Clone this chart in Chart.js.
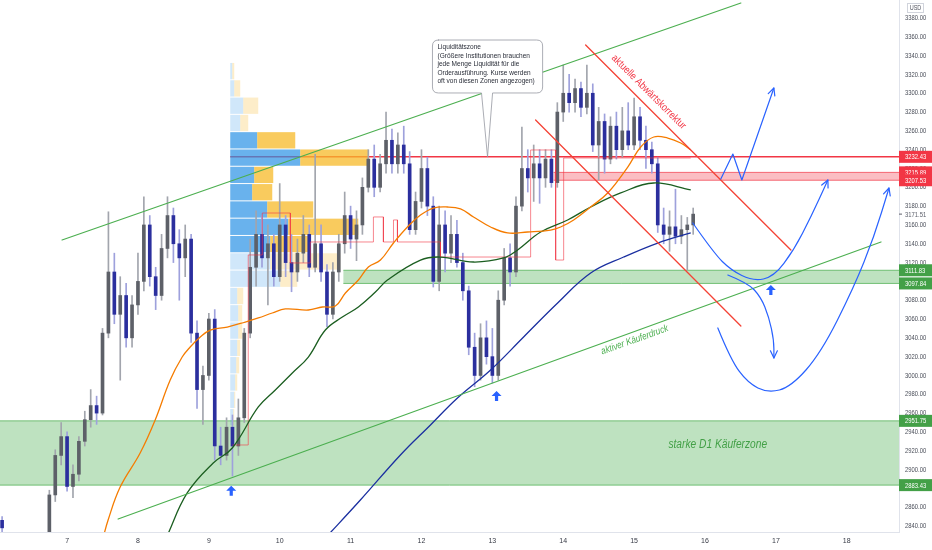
<!DOCTYPE html>
<html>
<head>
<meta charset="utf-8">
<script src="https://cdn.jsdelivr.net/npm/chart.js@4.4.1/dist/chart.umd.min.js"></script>
<style>
html, body { margin: 0; padding: 0; background: #fff; }
#wrap { width: 932px; height: 550px; }
</style>
</head>
<body>
<div id="wrap"><canvas id="chart" width="932" height="550"></canvas></div>
<script>
// 2h candles, starting day 6 at 02:00
const startDay = 6 + 2 / 24;
const candleHours = 2;

const open = [2846,2832,2820,2825,2816,2822,2818,2826,2830,2873,
  2915,2935,2882,2895,2930,2953,2968,2960,3045,3110,
  3065,3085,3040,3075,3100,3160,3105,3085,3135,3170,
  3140,3125,3145,3045,2985,3000,3060,2925,2915,2945,
  2925,2955,3045,3115,3150,3125,3140,3105,3160,3120,
  3110,3130,3150,3115,3140,3110,3065,3110,3140,3170,
  3145,3160,3200,3230,3200,3225,3250,3225,3245,3225,
  3155,3185,3220,3180,3100,3160,3130,3150,3120,3090,
  3030,3000,3040,3020,3000,3080,3125,3110,3180,3220,
  3210,3225,3210,3230,3205,3280,3300,3290,3305,3285,
  3300,3245,3270,3230,3265,3240,3260,3245,3275,3250,
  3240,3225,3160,3150,3158,3148,3155,3160];
const high = [2850,2833,2828,2831,2826,2830,2829,2832,2878,2921,
  2950,2940,2905,2935,2962,2985,2978,3050,3174,3130,
  3105,3098,3085,3130,3190,3170,3115,3150,3190,3178,
  3155,3160,3150,3058,3010,3066,3070,2945,2955,2958,
  2975,3050,3145,3175,3170,3160,3150,3204,3170,3150,
  3145,3170,3160,3235,3160,3118,3120,3150,3195,3180,
  3175,3210,3240,3245,3235,3280,3262,3258,3265,3238,
  3195,3240,3232,3190,3180,3175,3170,3165,3130,3095,
  3045,3055,3058,3050,3090,3135,3140,3190,3264,3240,
  3245,3240,3240,3240,3290,3330,3320,3315,3312,3330,
  3310,3285,3278,3275,3280,3285,3290,3295,3285,3265,
  3248,3232,3178,3175,3198,3170,3168,3178];
const low = [2834,2815,2810,2812,2808,2815,2811,2818,2826,2866,
  2905,2877,2870,2888,2925,2945,2948,2958,3040,3055,
  2995,3030,3030,3065,3090,3095,3070,3080,3125,3120,
  3080,3105,3035,2965,2948,2995,2910,2905,2910,2893,
  2915,2950,3040,3095,3115,3075,3095,3100,3105,3089,
  3100,3120,3105,3110,3100,3052,3060,3100,3130,3135,
  3122,3150,3195,3190,3195,3215,3215,3215,3215,3150,
  3150,3178,3170,3094,3090,3110,3120,3115,3080,3022,
  2988,2995,3012,2992,2995,3075,3095,3105,3175,3195,
  3185,3183,3200,3200,3200,3270,3280,3280,3275,3278,
  3238,3208,3215,3225,3230,3232,3240,3240,3240,3220,
  3215,3152,3140,3132,3140,3140,3112,3150];
const close = [2838,2820,2825,2816,2822,2818,2826,2830,2873,2915,
  2935,2882,2895,2930,2953,2968,2960,3045,3110,3065,
  3085,3040,3075,3100,3160,3105,3085,3135,3170,3140,
  3125,3145,3045,2985,3000,3060,2925,2915,2945,2925,
  2955,3045,3115,3150,3125,3140,3105,3160,3120,3110,
  3130,3150,3115,3140,3110,3065,3110,3140,3170,3145,
  3160,3200,3230,3200,3225,3250,3225,3245,3225,3155,
  3185,3220,3180,3100,3160,3130,3150,3120,3090,3030,
  3000,3040,3020,3000,3080,3125,3110,3180,3220,3210,
  3225,3210,3230,3205,3280,3300,3290,3305,3285,3300,
  3245,3270,3230,3265,3240,3260,3245,3275,3250,3240,
  3225,3160,3150,3158,3148,3155,3160,3171.51];

// moving averages (day, price)
const maOrangeDays = [7.50,7.579,7.749,8.031,8.243,8.455,8.624,8.737,8.879,9.020,9.260,9.514,9.698,9.895,10.079,10.404,10.602,10.785,10.927,11.110,11.251,11.421,11.605,11.802,11.986,12.169,12.367,12.551,12.734,12.975,13.215,13.497,13.822,13.963,14.147,14.387,14.627,14.910,15.093,15.277,15.475,15.658,15.799];
const maOrange = [2825,2846.4,2881.4,2917.6,2952.7,2995.2,3019.6,3030.3,3040.9,3048.3,3051.5,3056.8,3061.1,3066.4,3070.7,3069.6,3072.8,3073.8,3087.7,3101.5,3115.3,3122.7,3140.8,3157.8,3170.6,3178.0,3179.1,3177.0,3168.5,3157.8,3151.5,3152.5,3154.6,3157.8,3165.3,3179.1,3194.0,3221.6,3242.9,3253.5,3252.4,3247.1,3239.6];
const maGreenDays = [8.398,8.695,9.062,9.331,9.698,9.938,10.178,10.404,10.644,10.884,11.110,11.350,11.520,11.986,12.268,12.734,13.158,13.356,13.681,14.062,14.387,14.811,15.277,15.799];
const maGreen = [2827.2,2875.1,2907.0,2922.9,2966.5,2984.6,3002.6,3019.6,3048.3,3062.1,3072.8,3088.7,3101.5,3122.7,3125.9,3120.6,3124.9,3133.4,3152.5,3165.3,3179.1,3194.0,3204.6,3197.2];
const maBlueDays = [10.644,11.138,11.703,12.127,12.508,12.975,13.441,13.921,14.387,14.853,15.333,15.799];
const maBlue = [2827.2,2867.6,2915.5,2947.4,2976.0,3005.8,3040.9,3077.0,3108.9,3125.9,3140.8,3151.5];

// developing POC step line
const pocDays = [9.331,9.556,9.556,9.754,9.754,10.150,10.150,10.432,10.432,11.322,11.322,11.463,11.463,11.605,11.605,11.661,11.661,12.268,12.268,13.540,13.540,13.893,13.893,14.006,14.006,15.799];
const pocPrice = [2926.1,2926.1,3128.1,3128.1,3172.7,3172.7,3119.6,3119.6,3141.9,3141.9,3168.5,3168.5,3141.9,3141.9,3165.3,3165.3,3141.9,3141.9,3125.9,3125.9,3239.7,3239.7,3122.7,3122.7,3231.2,3231.2];

// volume profile (rows from top price downwards)
const profileTop = 3332.2;
const profileRow = 18.39;
const profileStartDay = 9.302;
const profileBuy = [2,4,13,10,27,70,24,22,37,58,40,40,50,7,8,8,7,6,5,4,3];
const profileSell = [2,6,15,8,38,68,19,20,46,70,40,70,17,6,4,4,3,3,2,1,1];
const valueAreaFirst = 4, valueAreaLast = 10;

// zones and levels
const zoneLow = [2883.43, 3097.84, 3207.53];
const zoneHigh = [2951.75, 3111.83, 3215.89];
const zoneStart = [6.0, 10.898, 13.864];
const zoneKind = ['buy', 'buy', 'sell'];
const liquidityLevel = 3232.43;
const liquidityStart = 9.302;
const lastPrice = 3171.51;

const tagPrices = [3232.43, 3215.89, 3207.53, 3111.83, 3097.84, 2951.75, 2883.43];
const tagKind = ['sell', 'sell', 'sell', 'buy', 'buy', 'buy', 'buy'];

// trend lines [day0, price0, day1, price1]
const greenLines = [[6.929, 3144.0, 16.506, 3395.9], [7.720, 2847.4, 18.483, 3141.9]];
const redLines = [[14.316, 3351.3, 17.212, 3133.4], [13.610, 3271.6, 16.506, 3052.6]];

// projected paths
const pathZigDays = [16.223, 16.393, 16.520, 16.972];
const pathZig = [3208.8, 3235.4, 3207.8, 3305.6];
const pathUpDays = [15.828, 16.124, 16.364, 16.675, 16.972, 17.254, 17.494, 17.734];
const pathUp = [3162.1, 3130.2, 3112.1, 3100.4, 3104.7, 3133.4, 3168.5, 3207.8];
const pathDownDays = [16.322, 16.605, 16.788, 16.901, 16.972, 16.972];
const pathDown = [3106.8, 3098.3, 3083.4, 3062.1, 3037.7, 3018.6];
const pathDeepDays = [16.181, 16.364, 16.605, 16.887, 17.212, 17.636, 18.102, 18.384, 18.596];
const pathDeep = [3050.5, 3016.5, 2992.0, 2981.4, 2987.7, 3023.9, 3094.0, 3147.2, 3199.3];

const markerDays = [9.316, 13.059, 16.929];
const markerPrices = [2882.7, 2983.5, 3096.2];

const calloutLines = ['Liquiditätszone', '(Größere Institutionen brauchen', 'jede Menge Liquidität für die', 'Orderausführung. Kurse werden', 'oft von diesen Zonen angezogen)'];

const FONT = "'Liberation Sans', Arial, sans-serif";
const RED = '#f23645';
const GREEN = '#4caf50';
const BLUE = '#2962ff';

const times = open.map((_, i) => startDay + i * candleHours / 24);
const isUp = i => close[i] >= open[i];
const pts = (xs, ys) => xs.map((d, i) => ({ x: d, y: ys[i] }));

// narrow text: the reference font is condensed
function narrowText(ctx, text, x, y, sx, align) {
  ctx.save();
  ctx.translate(x, y);
  ctx.scale(sx, 1);
  ctx.textAlign = align || 'left';
  ctx.fillText(text, 0, 0);
  ctx.restore();
}

function drawPath(ctx, x, y, days, prices, smooth) {
  const p = days.map((d, i) => [x.getPixelForValue(d), y.getPixelForValue(prices[i])]);
  ctx.beginPath();
  ctx.moveTo(p[0][0], p[0][1]);
  if (!smooth) {
    for (let i = 1; i < p.length; i++) ctx.lineTo(p[i][0], p[i][1]);
  } else {
    for (let i = 1; i < p.length - 1; i++) {
      const mx = (p[i][0] + p[i + 1][0]) / 2, my = (p[i][1] + p[i + 1][1]) / 2;
      ctx.quadraticCurveTo(p[i][0], p[i][1], mx, my);
    }
    ctx.lineTo(p[p.length - 1][0], p[p.length - 1][1]);
  }
  ctx.stroke();
  const a = p[p.length - 2], b = p[p.length - 1];
  const ang = Math.atan2(b[1] - a[1], b[0] - a[0]);
  ctx.beginPath();
  ctx.moveTo(b[0] - 8 * Math.cos(ang - 0.45), b[1] - 8 * Math.sin(ang - 0.45));
  ctx.lineTo(b[0], b[1]);
  ctx.lineTo(b[0] - 8 * Math.cos(ang + 0.45), b[1] - 8 * Math.sin(ang + 0.45));
  ctx.stroke();
}

function rotatedText(ctx, text, cx, cy, angle, font, color, sx) {
  ctx.save();
  ctx.translate(cx, cy);
  ctx.rotate(angle);
  ctx.scale(sx, 1);
  ctx.font = font;
  ctx.fillStyle = color;
  ctx.textAlign = 'center';
  ctx.textBaseline = 'middle';
  ctx.fillText(text, 0, 0);
  ctx.restore();
}

const overlay = {
  id: 'overlay',
  beforeDatasetsDraw(chart) {
    const { ctx, chartArea: a, scales: { x, y } } = chart;
    ctx.save();
    ctx.beginPath(); ctx.rect(a.left, a.top, a.width, a.height); ctx.clip();

    zoneLow.forEach((lo, i) => {
      const x0 = Math.max(a.left, x.getPixelForValue(zoneStart[i]));
      const y0 = y.getPixelForValue(zoneHigh[i]);
      const y1 = y.getPixelForValue(lo);
      const buy = zoneKind[i] === 'buy';
      ctx.fillStyle = buy ? 'rgba(76,175,80,0.36)' : 'rgba(242,54,69,0.32)';
      ctx.fillRect(x0, y0, a.right - x0, y1 - y0);
      ctx.strokeStyle = buy ? 'rgba(76,175,80,0.75)' : 'rgba(242,54,69,0.7)';
      ctx.lineWidth = 1;
      ctx.beginPath();
      ctx.moveTo(x0, y0); ctx.lineTo(a.right, y0);
      ctx.moveTo(x0, y1); ctx.lineTo(a.right, y1);
      ctx.stroke();
    });

    const ly = y.getPixelForValue(liquidityLevel);
    ctx.strokeStyle = RED;
    ctx.lineWidth = 1.6;
    ctx.beginPath();
    ctx.moveTo(x.getPixelForValue(liquidityStart), ly);
    ctx.lineTo(a.right, ly);
    ctx.stroke();

    const px0 = x.getPixelForValue(profileStartDay);
    profileBuy.forEach((buy, i) => {
      const yt = y.getPixelForValue(profileTop - i * profileRow);
      const yb = y.getPixelForValue(profileTop - (i + 1) * profileRow);
      const inVA = i >= valueAreaFirst && i <= valueAreaLast;
      const h = yb - yt - 1;
      ctx.fillStyle = inVA ? 'rgba(41,146,230,0.7)' : 'rgba(41,146,230,0.22)';
      ctx.fillRect(px0, yt, buy, h);
      ctx.fillStyle = inVA ? 'rgba(247,185,40,0.75)' : 'rgba(247,185,40,0.25)';
      ctx.fillRect(px0 + buy, yt, profileSell[i], h);
    });
    ctx.restore();
  },
  afterDatasetsDraw(chart) {
    const { ctx, chartArea: a, scales: { x, y } } = chart;
    ctx.save();
    ctx.beginPath(); ctx.rect(a.left, a.top, a.width, a.height); ctx.clip();
    ctx.lineCap = 'round';

    ctx.lineWidth = 1.2;
    ctx.strokeStyle = GREEN;
    greenLines.forEach(l => {
      ctx.beginPath();
      ctx.moveTo(x.getPixelForValue(l[0]), y.getPixelForValue(l[1]));
      ctx.lineTo(x.getPixelForValue(l[2]), y.getPixelForValue(l[3]));
      ctx.stroke();
    });
    ctx.strokeStyle = '#f44336';
    ctx.lineWidth = 1.3;
    redLines.forEach(l => {
      ctx.beginPath();
      ctx.moveTo(x.getPixelForValue(l[0]), y.getPixelForValue(l[1]));
      ctx.lineTo(x.getPixelForValue(l[2]), y.getPixelForValue(l[3]));
      ctx.stroke();
    });

    // callout
    const l = x.getPixelForValue(12.155), t = y.getPixelForValue(3356.6);
    const r = x.getPixelForValue(13.709), b = y.getPixelForValue(3300.3);
    const pL = x.getPixelForValue(12.847), pR = x.getPixelForValue(13.003);
    const tipX = x.getPixelForValue(12.932), tipY = y.getPixelForValue(liquidityLevel);
    const rad = 6;
    ctx.beginPath();
    ctx.moveTo(l + rad, t);
    ctx.lineTo(r - rad, t); ctx.quadraticCurveTo(r, t, r, t + rad);
    ctx.lineTo(r, b - rad); ctx.quadraticCurveTo(r, b, r - rad, b);
    ctx.lineTo(pR, b); ctx.lineTo(tipX, tipY); ctx.lineTo(pL, b);
    ctx.lineTo(l + rad, b); ctx.quadraticCurveTo(l, b, l, b - rad);
    ctx.lineTo(l, t + rad); ctx.quadraticCurveTo(l, t, l + rad, t);
    ctx.closePath();
    ctx.fillStyle = '#ffffff';
    ctx.fill();
    ctx.strokeStyle = '#9598a1';
    ctx.lineWidth = 0.8;
    ctx.stroke();
    ctx.fillStyle = '#2a2e39';
    ctx.font = '7.5px ' + FONT;
    ctx.textBaseline = 'middle';
    calloutLines.forEach((s, i) => narrowText(ctx, s, l + 5, t + 7 + i * 8.5, 0.87));

    rotatedText(ctx, 'aktuelle Abwärtskorrektur', x.getPixelForValue(15.206), y.getPixelForValue(3301.3), Math.PI / 4, '10.5px ' + FONT, RED, 0.85);
    rotatedText(ctx, 'aktiver Käuferdruck', x.getPixelForValue(15.008), y.getPixelForValue(3037.7), -0.344, 'italic 10px ' + FONT, GREEN, 0.82);
    rotatedText(ctx, 'starke D1 Käuferzone', x.getPixelForValue(16.18), y.getPixelForValue(2926.1), 0, 'italic 12px ' + FONT, '#43a047', 0.85);

    // projections
    ctx.strokeStyle = BLUE;
    ctx.lineWidth = 1.2;
    ctx.lineJoin = 'round';
    drawPath(ctx, x, y, pathZigDays, pathZig, false);
    drawPath(ctx, x, y, pathUpDays, pathUp, true);
    drawPath(ctx, x, y, pathDownDays, pathDown, true);
    drawPath(ctx, x, y, pathDeepDays, pathDeep, true);

    ctx.fillStyle = BLUE;
    markerDays.forEach((d, i) => {
      const mx = x.getPixelForValue(d), my = y.getPixelForValue(markerPrices[i]);
      ctx.beginPath();
      ctx.moveTo(mx, my);
      ctx.lineTo(mx + 5, my + 5);
      ctx.lineTo(mx + 1.6, my + 5);
      ctx.lineTo(mx + 1.6, my + 10);
      ctx.lineTo(mx - 1.6, my + 10);
      ctx.lineTo(mx - 1.6, my + 5);
      ctx.lineTo(mx - 5, my + 5);
      ctx.closePath();
      ctx.fill();
    });
    ctx.restore();
  },
  afterDraw(chart) {
    const { ctx, chartArea: a, scales: { y } } = chart;
    ctx.save();
    ctx.font = '7.5px ' + FONT;
    ctx.textBaseline = 'middle';
    // price axis ticks from the scale
    ctx.fillStyle = '#4a4e59';
    y.ticks.forEach(tk => narrowText(ctx, tk.value.toFixed(2), a.right + 6, y.getPixelForValue(tk.value), 0.78));

    tagPrices.forEach((p, i) => {
      const ty = y.getPixelForValue(p);
      ctx.fillStyle = tagKind[i] === 'buy' ? '#43a047' : RED;
      ctx.fillRect(a.right, ty - 6, chart.width - a.right, 12);
      ctx.fillStyle = '#ffffff';
      narrowText(ctx, p.toFixed(2), a.right + 6, ty + 0.5, 0.78);
    });
    const lp = y.getPixelForValue(lastPrice);
    ctx.fillStyle = '#5d606b';
    narrowText(ctx, lastPrice.toFixed(2), a.right + 6, lp + 0.5, 0.78);
    ctx.strokeStyle = '#5d606b';
    ctx.lineWidth = 1;
    ctx.beginPath(); ctx.moveTo(a.right, lp); ctx.lineTo(a.right + 3, lp); ctx.stroke();

    ctx.strokeStyle = '#d1d4dc';
    ctx.strokeRect(a.right + 8.5, 3.5, 16, 9);
    ctx.fillStyle = '#50535e';
    ctx.font = '6.5px ' + FONT;
    narrowText(ctx, 'USD', a.right + 16.5, 8.5, 0.85, 'center');
    ctx.restore();
  }
};

new Chart(document.getElementById('chart'), {
  type: 'bar',
  data: {
    datasets: [
      { type: 'line', data: pts(maOrangeDays, maOrange), borderColor: '#f57c00', borderWidth: 1.3, pointRadius: 0, tension: 0.4, order: 1 },
      { type: 'line', data: pts(maGreenDays, maGreen), borderColor: '#1b5e20', borderWidth: 1.3, pointRadius: 0, tension: 0.4, order: 1 },
      { type: 'line', data: pts(maBlueDays, maBlue), borderColor: '#1a2fa0', borderWidth: 1.3, pointRadius: 0, tension: 0.4, order: 1 },
      { type: 'line', data: pts(pocDays, pocPrice), borderColor: 'rgba(242,54,69,0.6)', borderWidth: 1, pointRadius: 0, tension: 0, order: 2 },
      {
        data: times.map((t, i) => ({ x: t, y: [open[i], close[i]] })),
        backgroundColor: c => isUp(c.dataIndex) ? '#5d6068' : '#2b2f9e',
        barThickness: 3, minBarLength: 1, grouped: false, borderWidth: 0, order: 3
      },
      {
        data: times.map((t, i) => ({ x: t, y: [low[i], high[i]] })),
        backgroundColor: c => isUp(c.dataIndex) ? '#a2a5ad' : '#9ea1dc',
        barThickness: 1, grouped: false, borderWidth: 0, order: 4
      }
    ]
  },
  options: {
    responsive: false,
    animation: false,
    layout: { padding: 0 },
    plugins: { legend: { display: false }, tooltip: { enabled: false } },
    scales: {
      x: {
        type: 'linear',
        min: 6.0537,
        max: 18.737,
        offset: false,
        grid: { display: false, drawTicks: false },
        border: { display: true, color: '#e0e3eb' },
        ticks: {
          stepSize: 1, includeBounds: false, autoSkip: false, maxRotation: 0,
          padding: 5, color: '#363a45', font: { family: FONT, size: 7 },
          callback: v => Number.isInteger(v) ? String(v) : ''
        },
        afterFit: s => { s.height = 18; s.paddingLeft = 0; s.paddingRight = 0; }
      },
      y: {
        position: 'right',
        min: 2833.6,
        max: 3399.13,
        grid: { display: false, drawTicks: false },
        border: { display: true, color: '#e0e3eb' },
        ticks: {
          display: false,
          stepSize: 20, maxTicksLimit: 100, includeBounds: false, autoSkip: false
        },
        afterFit: s => { s.width = 33; s.paddingTop = 0; s.paddingBottom = 0; }
      }
    }
  },
  plugins: [overlay]
});
</script>
</body>
</html>
